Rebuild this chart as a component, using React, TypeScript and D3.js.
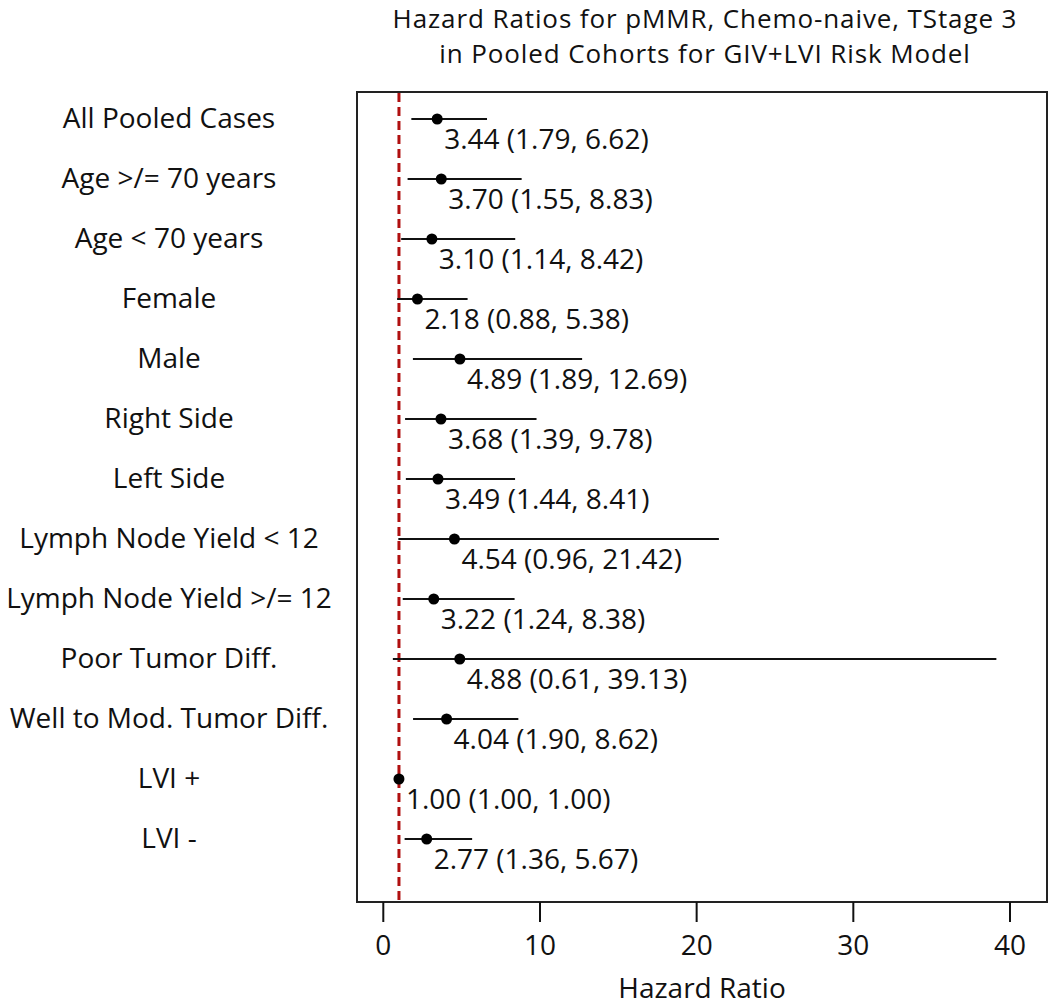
import React from "react";
import * as d3 from "d3";

const labels = [
  "All Pooled Cases",
  "Age >/= 70 years",
  "Age < 70 years",
  "Female",
  "Male",
  "Right Side",
  "Left Side",
  "Lymph Node Yield < 12",
  "Lymph Node Yield >/= 12",
  "Poor Tumor Diff.",
  "Well to Mod. Tumor Diff.",
  "LVI +",
  "LVI -",
];
const hr = [3.44, 3.7, 3.1, 2.18, 4.89, 3.68, 3.49, 4.54, 3.22, 4.88, 4.04, 1.0, 2.77];
const lo = [1.79, 1.55, 1.14, 0.88, 1.89, 1.39, 1.44, 0.96, 1.24, 0.61, 1.9, 1.0, 1.36];
const hi = [6.62, 8.83, 8.42, 5.38, 12.69, 9.78, 8.41, 21.42, 8.38, 39.13, 8.62, 1.0, 5.67];
const xTicks = [0, 10, 20, 30, 40];
const titleLines = [
  "Hazard Ratios for pMMR, Chemo-naive, TStage 3",
  "in Pooled Cohorts for GIV+LVI Risk Model",
];

const W = 1050;
const H = 1008;
const box = { left: 357, right: 1047, top: 92, bottom: 902 };
const font = "'Open Sans', 'DejaVu Sans', sans-serif";

export default function App() {
  const x = d3.scaleLinear().domain([0, 40]).range([383.3, 1010]);
  const y = d3
    .scaleLinear()
    .domain([0, labels.length - 1])
    .range([119, 119 + 60 * (labels.length - 1)]);
  const fmt = d3.format(".2f");
  return (
    <svg
      width={W}
      height={H}
      style={{ position: "absolute", left: 0, top: 0, background: "#fff" }}
      fontFamily={font}
    >
      <rect x={0} y={0} width={W} height={H} fill="#fff" />
      {titleLines.map((t, i) => (
        <text
          key={i}
          x={(box.left + box.right) / 2 + 3}
          y={28 + i * 35}
          textAnchor="middle"
          fontSize={26}
          letterSpacing={0.9}
          fill="#111"
        >
          {t}
        </text>
      ))}
      <rect
        x={box.left}
        y={box.top}
        width={box.right - box.left}
        height={box.bottom - box.top}
        fill="none"
        stroke="#222"
        strokeWidth={2}
      />
      <line
        x1={x(1)}
        x2={x(1)}
        y1={box.top + 1}
        y2={box.bottom - 1}
        stroke="#b01010"
        strokeWidth={3}
        strokeDasharray="9,5"
      />
      {labels.map((lab, i) => (
        <g key={lab}>
          <text x={169} y={y(i) + 9} textAnchor="middle" fontSize={28} fill="#111">
            {lab}
          </text>
          <line x1={x(lo[i])} x2={x(hi[i])} y1={y(i)} y2={y(i)} stroke="#111" strokeWidth={2} />
          <circle cx={x(hr[i])} cy={y(i)} r={5.5} fill="#000" />
          <text x={x(hr[i]) + 7} y={y(i) + 30} fontSize={28} fill="#111">
            {`${fmt(hr[i])} (${fmt(lo[i])}, ${fmt(hi[i])})`}
          </text>
        </g>
      ))}
      {xTicks.map((t) => (
        <g key={t}>
          <line x1={x(t)} x2={x(t)} y1={box.bottom} y2={box.bottom + 20} stroke="#111" strokeWidth={2} />
          <text x={x(t)} y={955} textAnchor="middle" fontSize={28} fill="#111">
            {t}
          </text>
        </g>
      ))}
      <text x={(box.left + box.right) / 2} y={998} textAnchor="middle" fontSize={28} fill="#111">
        Hazard Ratio
      </text>
    </svg>
  );
}
